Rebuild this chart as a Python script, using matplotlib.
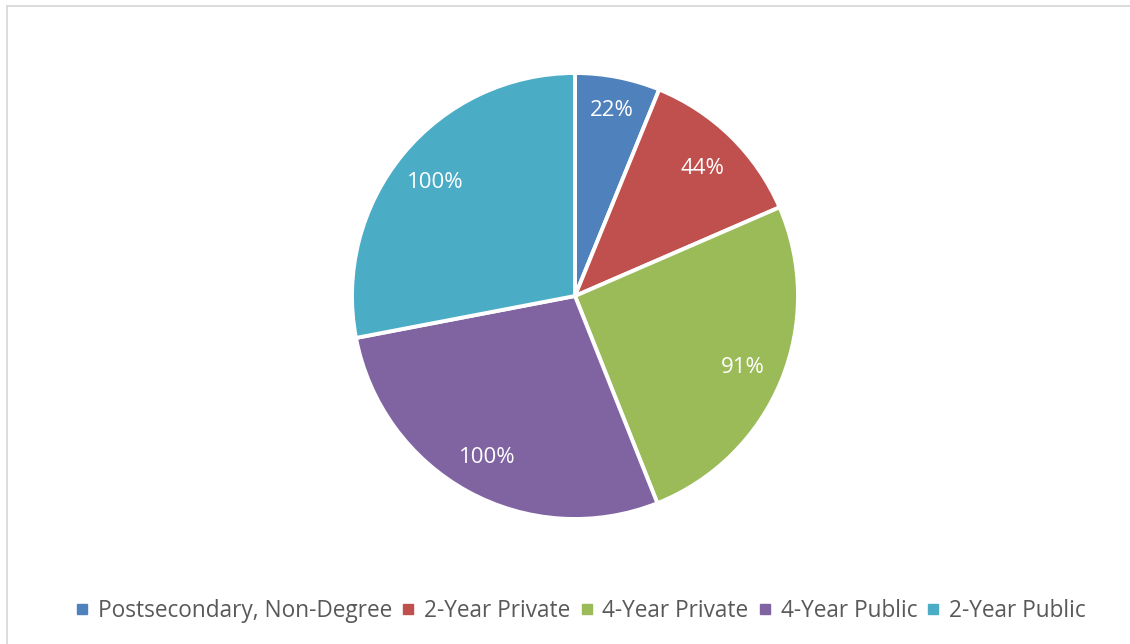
import matplotlib
matplotlib.use("Agg")
import matplotlib.pyplot as plt
from matplotlib.lines import Line2D
import numpy as np

categories = ["Postsecondary, Non-Degree", "2-Year Private", "4-Year Private",
              "4-Year Public", "2-Year Public"]
values = [22, 44, 91, 100, 100]
value_labels = ["22%", "44%", "91%", "100%", "100%"]
colors = ["#4F81BD", "#C0504D", "#9BBB59", "#8064A2", "#4BACC6"]

plt.rcParams["font.family"] = ["Open Sans", "DejaVu Sans"]

W, H = 1130, 644
fig = plt.figure(figsize=(W / 100, H / 100), dpi=100)
fig.patch.set_facecolor("white")

# Chart frame (light gray, top and left edges visible)
fig.add_artist(Line2D([6.5 / W, 1.0], [1 - 5.5 / H, 1 - 5.5 / H],
                      color="#D9D9D9", lw=1.3, transform=fig.transFigure))
fig.add_artist(Line2D([6.5 / W, 6.5 / W], [0.0, 1 - 5.5 / H],
                      color="#D9D9D9", lw=1.3, transform=fig.transFigure))

cx, cy, r = 575, 296, 223
ax = fig.add_axes([(cx - r) / W, (H - cy - r) / H, 2 * r / W, 2 * r / H])
wedges, _ = ax.pie(values, colors=colors, startangle=90, counterclock=False,
                   radius=1.0,
                   wedgeprops=dict(edgecolor="white", linewidth=2.8))

total = sum(values)
start = 90.0
for v, lab in zip(values, value_labels):
    mid = start - 360.0 * v / total / 2
    start -= 360.0 * v / total
    d = 0.86 if v < 30 else 0.815
    ax.text(d * np.cos(np.radians(mid)), d * np.sin(np.radians(mid)) - 0.01, lab,
            ha="center", va="center", color="white", fontsize=16)

ax.set_xlim(-1, 1)
ax.set_ylim(-1, 1)
ax.set_aspect("equal")
ax.axis("off")

handles = [Line2D([], [], marker="s", linestyle="none", markersize=7,
                  markerfacecolor=c, markeredgecolor=c) for c in colors]
fig.legend(handles, categories, loc="center", bbox_to_anchor=(581 / W, 1 - 611 / H),
           ncol=5, frameon=False, fontsize=16.3, labelcolor="#595959",
           handlelength=0.5, handletextpad=0.45, columnspacing=0.47)

fig.savefig("out.png", dpi=100, facecolor="white")
